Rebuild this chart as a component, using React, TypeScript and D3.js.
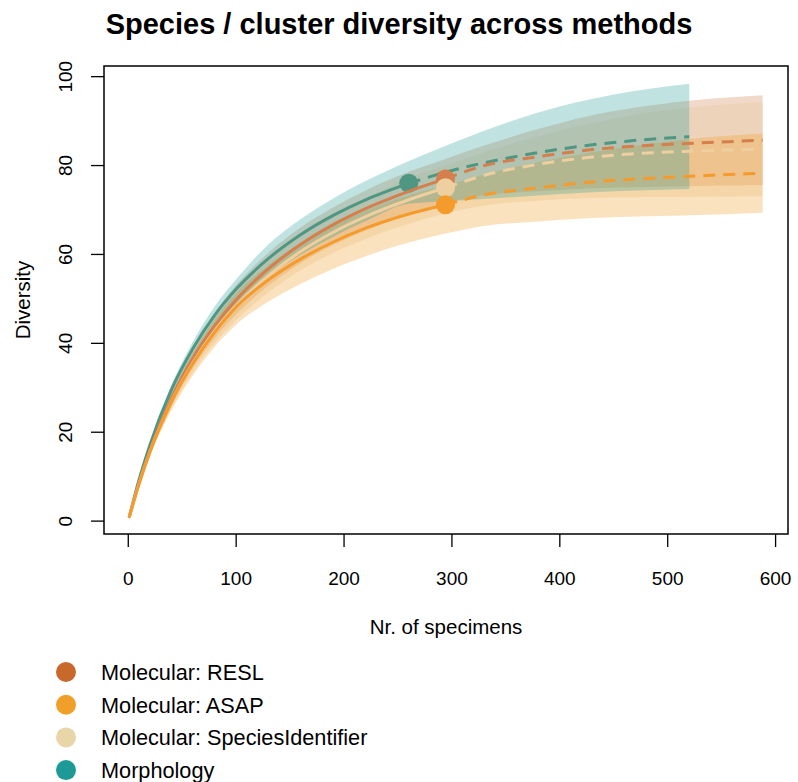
import React from "react";
import * as d3 from "d3";

// ---------- data ----------
const seriesNames = ["Molecular: RESL", "Molecular: ASAP", "Molecular: SpeciesIdentifier", "Morphology"];

// rarefaction sample sizes
const rareN_mol = [1, 10, 20, 40, 60, 80, 100, 130, 160, 190, 220, 260, 294];
const rareN_morph = [1, 10, 20, 40, 60, 80, 100, 130, 160, 190, 220, 260];
// extrapolation sample sizes
const extrN_mol = [294, 330, 380, 430, 480, 530, 588];
const extrN_morph = [260, 300, 350, 400, 450, 520];

// RESL
const resl_rare = [1, 8.6, 15.9, 27.6, 36.7, 43.9, 49.8, 56.8, 62.3, 66.7, 70.3, 74.2, 77];
const resl_rare_lo = [1, 8.2, 15.1, 26, 34.5, 41.1, 46.5, 53, 58.1, 62.1, 65.4, 69, 71.5];
const resl_rare_hi = [1, 9, 16.7, 29.2, 38.9, 46.7, 53.1, 60.4, 66.1, 70.6, 74.4, 78.6, 81.5];
const resl_extr = [77, 80, 82, 83.6, 84.5, 85.1, 85.7];
const resl_extr_lo = [71.5, 73.3, 74.2, 74.9, 75.2, 75.4, 75.6];
const resl_extr_hi = [81.5, 84.5, 88.2, 91.3, 93.4, 94.8, 95.8];

// ASAP
const asap_rare = [1, 8.4, 15.5, 26.8, 35.5, 42.5, 48.2, 54.3, 59, 62.8, 65.9, 69.1, 71.2];
const asap_rare_lo = [1, 8, 14.6, 24.9, 32.8, 39.2, 44.2, 49.4, 53.4, 56.8, 59.6, 62.7, 64.7];
const asap_rare_hi = [1, 8.8, 16.4, 28.5, 37.8, 45.2, 51.2, 57.6, 62.6, 66.6, 69.8, 73.3, 75.5];
const asap_extr = [71.2, 73.4, 75, 76.3, 77.1, 77.7, 78.3];
const asap_extr_lo = [64.7, 66.4, 67.4, 68.2, 68.6, 68.9, 69.4];
const asap_extr_hi = [75.5, 78, 80.8, 83, 84.8, 86.2, 87.2];

// SpeciesIdentifier
const spid_rare = [1, 8.4, 15.5, 26.9, 35.7, 42.8, 48.5, 55.3, 60.7, 65, 68.5, 72.3, 75];
const spid_rare_lo = [1, 8, 14.7, 25.3, 33.5, 40, 45.2, 51.5, 56.5, 60.4, 63.5, 66.9, 69.2];
const spid_rare_hi = [1, 8.8, 16.3, 28.5, 37.9, 45.6, 51.6, 58.8, 64.4, 68.9, 72.6, 77.3, 80];
const spid_extr = [75, 77.8, 80.3, 81.9, 82.8, 83.3, 83.7];
const spid_extr_lo = [69.2, 71, 72.1, 72.7, 72.9, 73, 73.1];
const spid_extr_hi = [80, 83, 86.5, 89.5, 91.8, 93.3, 94.3];

// Morphology
const morph_rare = [1, 9.3, 17.1, 29.6, 38.9, 46.3, 52.2, 59.1, 64.5, 68.8, 72.3, 76];
const morph_rare_lo = [1, 8.9, 16.3, 27.8, 36.4, 43.3, 48.7, 55.1, 60, 64, 67.5, 71.4];
const morph_rare_hi = [1, 9.6, 17.7, 30.6, 40.4, 48.3, 54.4, 62.3, 68, 72.6, 76.5, 81];
const morph_extr = [76, 78.9, 81.6, 83.7, 85.2, 86.5];
const morph_extr_lo = [71.4, 72, 72.8, 73.6, 74.2, 74.7];
const morph_extr_hi = [81, 85, 89.6, 93.3, 96, 98.4];

const xTicks = [0, 100, 200, 300, 400, 500, 600];
const yTicks = [0, 20, 40, 60, 80, 100];

const legendColors = ["#C8692B", "#F0A028", "#E8D5A8", "#1E9A96"];
const lineColors = ["#D47F4C", "#F59B2C", "#EDCFA0", "#4F9683"];
const bandColors = ["#C8692B", "#F0A028", "#E8C898", "#1E9A96"];
const bandOpacity = [0.25, 0.3, 0.3, 0.28];

type S = {
  rn: number[]; r: number[]; rlo: number[]; rhi: number[];
  en: number[]; e: number[]; elo: number[]; ehi: number[];
};
const series: S[] = [
  { rn: rareN_mol, r: resl_rare, rlo: resl_rare_lo, rhi: resl_rare_hi, en: extrN_mol, e: resl_extr, elo: resl_extr_lo, ehi: resl_extr_hi },
  { rn: rareN_mol, r: asap_rare, rlo: asap_rare_lo, rhi: asap_rare_hi, en: extrN_mol, e: asap_extr, elo: asap_extr_lo, ehi: asap_extr_hi },
  { rn: rareN_mol, r: spid_rare, rlo: spid_rare_lo, rhi: spid_rare_hi, en: extrN_mol, e: spid_extr, elo: spid_extr_lo, ehi: spid_extr_hi },
  { rn: rareN_morph, r: morph_rare, rlo: morph_rare_lo, rhi: morph_rare_hi, en: extrN_morph, e: morph_extr, elo: morph_extr_lo, ehi: morph_extr_hi },
];

const W = 798, H = 782;
const L = 104, R = 788, T = 66, B = 534;
const FONT = "'Liberation Sans', Arial, Helvetica, sans-serif";

export default function App() {
  const x = d3.scaleLinear().domain([-22.5, 611.5]).range([L, R]);
  const y = d3.scaleLinear().domain([-2.9, 102.4]).range([B, T]);

  const area = d3.area<[number, number, number]>()
    .x(d => x(d[0])).y0(d => y(d[1])).y1(d => y(d[2]))
    .curve(d3.curveMonotoneX);
  const line = d3.line<[number, number]>()
    .x(d => x(d[0])).y(d => y(d[1]))
    .curve(d3.curveMonotoneX);

  const bandOrder = [0, 2, 1, 3];

  return (
    <svg width={W} height={H} style={{ position: "absolute", left: 0, top: 0, display: "block" }} fontFamily={FONT}>
      <rect x={0} y={0} width={W} height={H} fill="#fff" />
      <defs>
        <clipPath id="plotclip"><rect x={L} y={T} width={R - L} height={B - T} /></clipPath>
      </defs>
      <g clipPath="url(#plotclip)">
        {bandOrder.map(i => {
          const s = series[i];
          const pts: [number, number, number][] = [
            ...s.rn.map((n, k) => [n, s.rlo[k], s.rhi[k]] as [number, number, number]),
            ...s.en.slice(1).map((n, k) => [n, s.elo[k + 1], s.ehi[k + 1]] as [number, number, number]),
          ];
          return <path key={"b" + i} d={area(pts) || ""} fill={bandColors[i]} fillOpacity={bandOpacity[i]} stroke="none" />;
        })}
        {[3, 0, 2, 1].map(i => {
          const s = series[i];
          const rp = s.rn.map((n, k) => [n, s.r[k]] as [number, number]);
          const ep = s.en.map((n, k) => [n, s.e[k]] as [number, number]);
          return (
            <g key={"l" + i}>
              <path d={line(rp) || ""} fill="none" stroke={lineColors[i]} strokeWidth={3} strokeLinecap="round" />
              <path d={line(ep) || ""} fill="none" stroke={lineColors[i]} strokeWidth={3} strokeDasharray="12 8" />
              <circle cx={x(s.rn[s.rn.length - 1])} cy={y(s.r[s.r.length - 1])} r={9.5} fill={lineColors[i]} />
            </g>
          );
        })}
      </g>

      {/* box */}
      <rect x={L} y={T} width={R - L} height={B - T} fill="none" stroke="#000" strokeWidth={1.5} />

      {/* x axis */}
      {xTicks.map(t => (
        <g key={"xt" + t}>
          <line x1={x(t)} x2={x(t)} y1={B} y2={B + 13} stroke="#000" strokeWidth={1.3} />
          <text x={x(t)} y={585} textAnchor="middle" fontSize={19} fill="#000">{t}</text>
        </g>
      ))}
      {/* y axis */}
      {yTicks.map(t => (
        <g key={"yt" + t}>
          <line x1={L - 13} x2={L} y1={y(t)} y2={y(t)} stroke="#000" strokeWidth={1.3} />
          <text transform={`translate(72,${y(t)}) rotate(-90)`} textAnchor="middle" fontSize={19} fill="#000">{t}</text>
        </g>
      ))}

      <text x={(L + R) / 2} y={634} textAnchor="middle" fontSize={20.5} fill="#000">Nr. of specimens</text>
      <text transform={`translate(30,${(T + B) / 2}) rotate(-90)`} textAnchor="middle" fontSize={20.5} fill="#000">Diversity</text>

      <text x={399} y={34} textAnchor="middle" fontSize={29} fontWeight="bold" fill="#000">Species / cluster diversity across methods</text>

      {/* legend */}
      {seriesNames.map((nm, i) => (
        <g key={"lg" + i}>
          <circle cx={66} cy={672 + i * 32.7} r={10} fill={legendColors[i]} />
          <text x={101} y={672 + i * 32.7 + 7.8} fontSize={21.7} fill="#000">{nm}</text>
        </g>
      ))}
    </svg>
  );
}
